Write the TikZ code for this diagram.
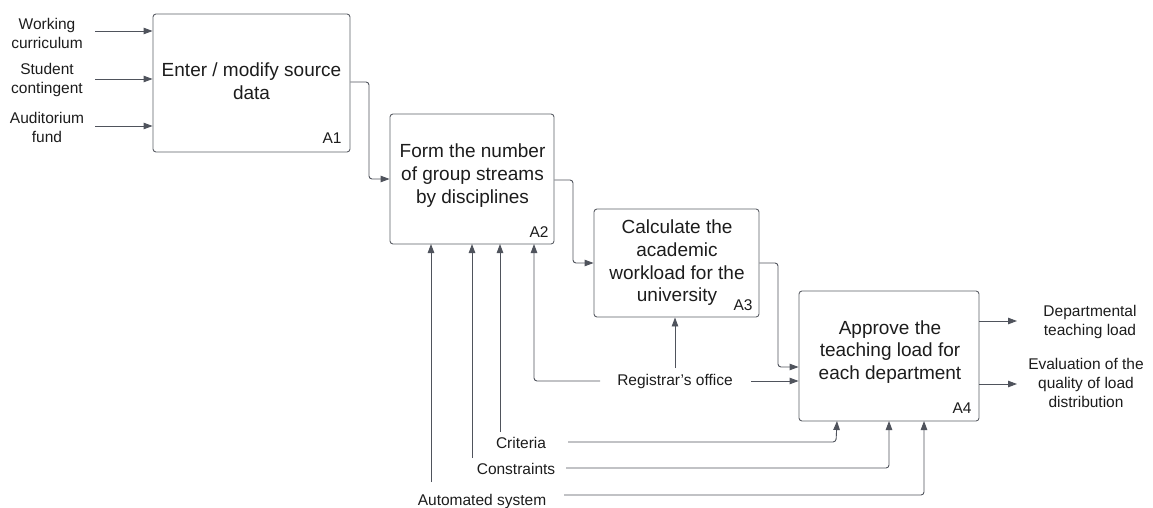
\documentclass[tikz,border=0pt]{standalone}
\usepackage{fontspec}
\setmainfont{Liberation Sans}[Ligatures=ResetAll]
\usetikzlibrary{arrows.meta,calc}
\definecolor{linec}{HTML}{4F535C}
\definecolor{boxc}{HTML}{5C5F66}
\definecolor{txtc}{HTML}{1C1C1C}
\tikzset{
  box/.style={draw=boxc, line width=0.9pt, rounded corners=3pt, align=center, text=txtc,
    font=\fontsize{19}{23}\selectfont, inner sep=0pt},
  tag/.style={text=txtc, font=\fontsize{15.5}{19}\selectfont, inner sep=0pt},
  lab/.style={text=txtc, font=\fontsize{15.5}{19}\selectfont, align=center, inner sep=0pt},
  arr/.style={draw=linec, line width=0.9pt, rounded corners=3pt, -{Triangle[length=9pt,width=6.5pt]}},
  ln/.style={draw=linec, line width=0.9pt, rounded corners=3pt}
}
\begin{document}
\begin{tikzpicture}[x=1pt,y=-1pt]
\useasboundingbox (0,0) rectangle (1153,508);
% boxes
\node[box, minimum width=197pt, minimum height=138pt] (A1) at (251.5,83) {};
\node[box, minimum width=164pt, minimum height=130pt] (A2) at (472,179) {};
\node[box, minimum width=165pt, minimum height=108pt] (A3) at (676.5,263) {};
\node[box, minimum width=180pt, minimum height=130pt] (A4) at (889,356) {};
% box texts
\node[lab, font=\fontsize{19}{23}\selectfont] (t1) at (251.5,81) {Enter / modify source\\data};
\node[lab, font=\fontsize{19}{23}\selectfont] (t2) at (472.5,176) {Form the number\\of group streams\\by disciplines};
\node[lab, font=\fontsize{19}{22.7}\selectfont] (t3) at (677,263) {Calculate the\\academic\\workload for the\\university};
\node[lab, font=\fontsize{19}{22.5}\selectfont] (t4) at (890,352) {Approve the\\teaching load for\\each department};
% tags
\node[tag] (g1) at (332,138) {A1};
\node[tag] (g2) at (539,232) {A2};
\node[tag] (g3) at (743,305) {A3};
\node[tag] (g4) at (962,408) {A4};
% input labels
\node[lab] (wc) at (47,33) {Working\\curriculum};
\node[lab] (sc) at (47,80) {Student\\contingent};
\node[lab] (af) at (47,127) {Auditorium\\fund};
% output labels
\node[lab] (dt) at (1090,322) {Departmental\\teaching load};
\node[lab] (eq) at (1086,383) {Evaluation of the\\quality of load\\distribution};
% control labels
\node[lab] (reg) at (675,381) {Registrar's office};
\node[lab] (cri) at (521,443) {Criteria};
\node[lab] (con) at (516,469) {Constraints};
\node[lab] (aut) at (482,501) {Automated system};
% ports
\coordinate (p1) at (431,244);
\coordinate (p2) at (472,244);
\coordinate (p3) at (500,244);
\coordinate (p4) at (534,244);
\coordinate (q1) at (837,421);
\coordinate (q2) at (889,421);
\coordinate (q3) at (924,421);
% inputs
\draw[arr] (95,31) -- (A1.west |- 0,31);
\draw[arr] (95,79) -- (A1.west |- 0,79);
\draw[arr] (95,126) -- (A1.west |- 0,126);
% flow
\draw[arr] (A1.east |- 0,82) -- (369,82) |- (A2.west |- 0,179);
\draw[arr] (A2.east |- 0,180) -- (573,180) |- (A3.west |- 0,263);
\draw[arr] (A3.east |- 0,263) -- (778,263) |- (A4.west |- 0,367);
% outputs
\draw[arr] (A4.east |- 0,321) -- (1017,321);
\draw[arr] (A4.east |- 0,384) -- (1017,384);
% registrar
\draw[arr] (600,381) -- (534,381) -- (p4);
\draw[arr] (675,368) -- (A3.south -| 675,0);
\draw[arr] (751,381) -- (A4.west |- 0,381);
% criteria
\draw[arr] (500,432) -- (p3);
\draw[arr] (568,442) -- (836,442) -- (q1);
% constraints
\draw[arr] (472,458) -- (p2);
\draw[arr] (566,468) -- (889,468) -- (q2);
% automated system
\draw[arr] (431,482) -- (p1);
\draw[arr] (564,495) -- (924,495) -- (q3);
\end{tikzpicture}
\end{document}
